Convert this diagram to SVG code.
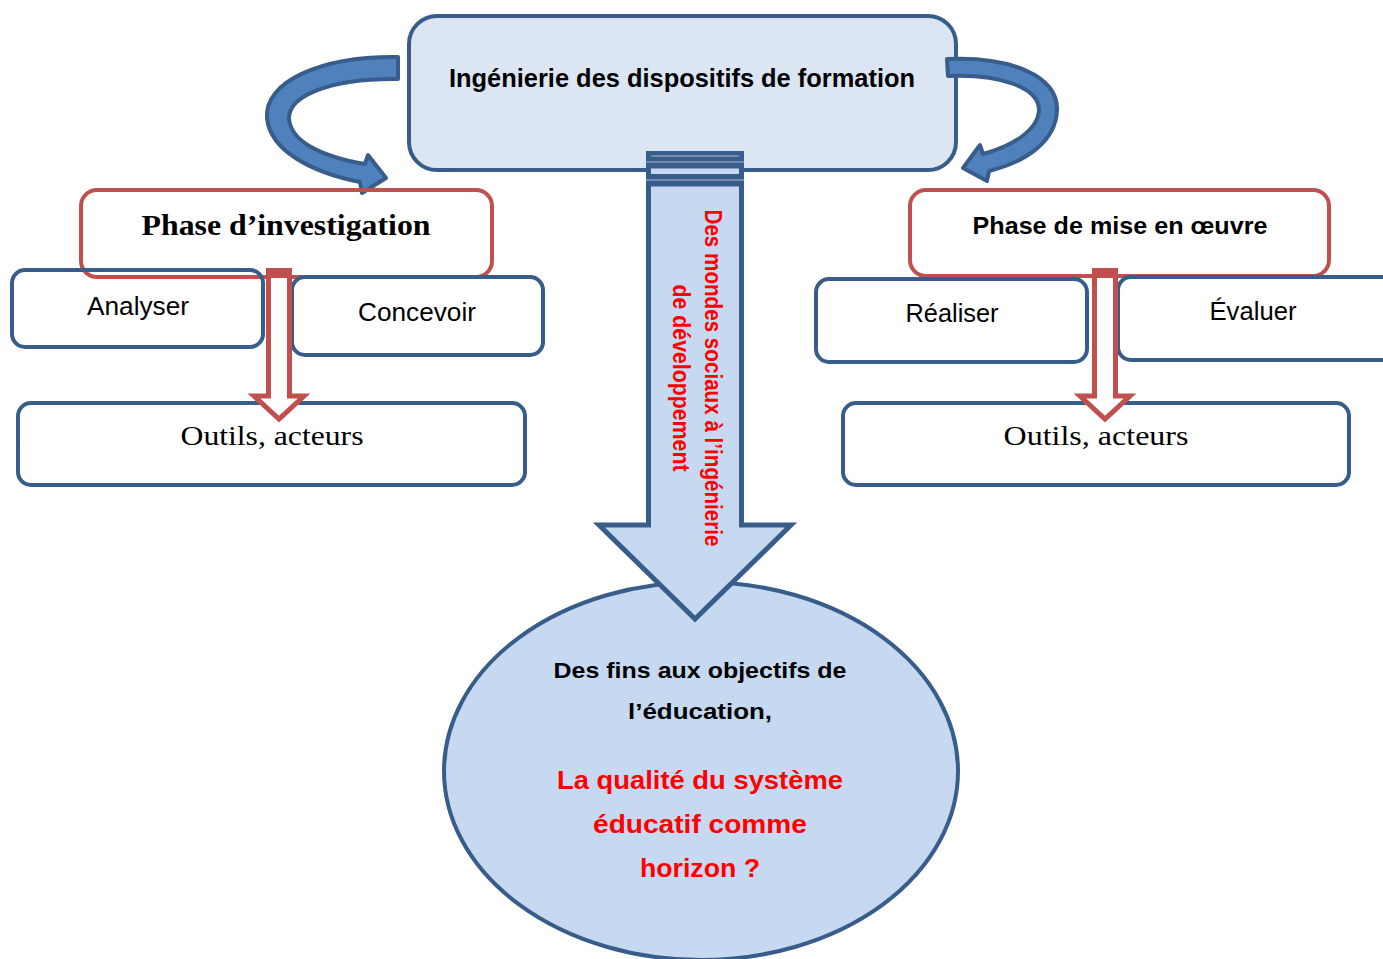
<svg xmlns="http://www.w3.org/2000/svg" width="1383" height="959" viewBox="0 0 1383 959">
<defs>
<style>
.bl{fill:none;stroke:#385d8a;stroke-width:4}
.rd{fill:none;stroke:#c0504d;stroke-width:4}
.sans{font-family:"Liberation Sans","Noto Sans",sans-serif}
.serif{font-family:"Liberation Serif","Times New Roman",serif}
.b{font-weight:bold}
.red{fill:#ff0000}
.blk{fill:#000}
.curv{fill:#4f81bd;stroke:#385d8a;stroke-width:4;stroke-linejoin:round}
.harr{fill:#fff;stroke:#c0504d;stroke-width:5;stroke-linejoin:miter}
</style>
</defs>
<rect width="1383" height="959" fill="#fff"/>

<g id="ellipse">
<ellipse cx="701" cy="771" rx="257" ry="189" fill="#c6d9f1" stroke="#385d8a" stroke-width="4"/>
<text class="sans b blk" font-size="22.5" text-anchor="middle" x="700" y="678" textLength="293" lengthAdjust="spacingAndGlyphs">Des fins aux objectifs de</text>
<text class="sans b blk" font-size="22.5" text-anchor="middle" x="700" y="719" textLength="144" lengthAdjust="spacingAndGlyphs">l’éducation,</text>
<text class="sans b red" font-size="25" text-anchor="middle" x="700" y="789" textLength="286" lengthAdjust="spacingAndGlyphs">La qualité du système</text>
<text class="sans b red" font-size="25" text-anchor="middle" x="700" y="833" textLength="214" lengthAdjust="spacingAndGlyphs">éducatif comme</text>
<text class="sans b red" font-size="25" text-anchor="middle" x="700" y="877" textLength="120" lengthAdjust="spacingAndGlyphs">horizon ?</text>
</g>

<g id="top">
<rect x="409" y="16" width="547" height="154" rx="28" fill="#dce6f2" stroke="#385d8a" stroke-width="4"/>
<text class="sans b blk" font-size="25" text-anchor="middle" x="682" y="87" textLength="466" lengthAdjust="spacingAndGlyphs">Ingénierie des dispositifs de formation</text>
</g>

<g id="connectors">
<g id="central-arrow">
<rect x="646" y="151" width="98" height="35" fill="#385d8a"/>
<line x1="651" y1="156" x2="739" y2="156" stroke="#a9bcd6" stroke-width="1"/>
<line x1="646" y1="162" x2="744" y2="162" stroke="#a9bcd6" stroke-width="1"/>
<rect x="651" y="168.5" width="88" height="5.5" fill="#c6d9f1"/>
<line x1="646" y1="180" x2="744" y2="180" stroke="#a9bcd6" stroke-width="1"/>
<polygon points="648.5,184 741.5,184 741.5,525 791,525 695,619 599,525 648.5,525" fill="#c6d9f1" stroke="#385d8a" stroke-width="5" stroke-linejoin="miter"/>
<g transform="translate(697,378) rotate(90)">
<text class="sans b red" font-size="24" text-anchor="middle" x="0" y="-8" textLength="337" lengthAdjust="spacingAndGlyphs">Des mondes sociaux à l’ingénierie</text>
<text class="sans b red" font-size="24" text-anchor="middle" x="0" y="24" textLength="187" lengthAdjust="spacingAndGlyphs">de développement</text>
</g>
</g>
<path class="curv" d="M398,57 C320,56 264,82 267,118 C270,150 310,172 360,182 L362,193 L386,178 L368,155 L365,164 C318,156 290,140 289,118 C289,96 330,78 398,79 Z"/>
<path class="curv" d="M947,59 C1010,56 1058,76 1057,110 C1056,142 1025,162 989,171 L987,181 L963,168 L980,145 L983,154 C1013,146 1038,130 1039,110 C1039,88 1002,74 948,76 Z"/>
</g>

<g id="phase-investigation">
<rect class="rd" x="81" y="190" width="411" height="87" rx="16"/>
<text class="serif b blk" font-size="30" text-anchor="middle" x="286" y="235" textLength="289" lengthAdjust="spacingAndGlyphs">Phase d’investigation</text>
</g>
<g id="analyser">
<rect class="bl" x="12" y="270" width="251" height="77" rx="13"/>
<text class="sans blk" font-size="25" text-anchor="middle" x="138" y="315" textLength="102" lengthAdjust="spacingAndGlyphs">Analyser</text>
</g>
<g id="concevoir">
<rect class="bl" x="292" y="277" width="251" height="78" rx="13"/>
<text class="sans blk" font-size="25" text-anchor="middle" x="417" y="321" textLength="118" lengthAdjust="spacingAndGlyphs">Concevoir</text>
</g>
<g id="outils-left">
<rect class="bl" x="18" y="403" width="507" height="82" rx="13"/>
<text class="serif blk" font-size="28" text-anchor="middle" x="272" y="445" textLength="183" lengthAdjust="spacingAndGlyphs">Outils, acteurs</text>
</g>
<g id="arrow-left">
<polygon class="harr" points="268.5,272 289.5,272 289.5,396 304,396 279,419 254,396 268.5,396"/>
<rect x="266" y="268" width="26" height="10" fill="#c0504d"/>
</g>

<g id="phase-mise">
<rect class="rd" x="910" y="190" width="419" height="86" rx="16"/>
<text class="sans b blk" font-size="24" text-anchor="middle" x="1120" y="234" textLength="295" lengthAdjust="spacingAndGlyphs">Phase de mise en œuvre</text>
</g>
<g id="realiser">
<rect class="bl" x="816" y="279" width="271" height="83" rx="13"/>
<text class="sans blk" font-size="25" text-anchor="middle" x="952" y="322" textLength="93" lengthAdjust="spacingAndGlyphs">Réaliser</text>
</g>
<g id="evaluer">
<rect class="bl" x="1118" y="277" width="280" height="83" rx="13"/>
<text class="sans blk" font-size="25" text-anchor="middle" x="1253" y="320" textLength="87" lengthAdjust="spacingAndGlyphs">Évaluer</text>
</g>
<g id="outils-right">
<rect class="bl" x="843" y="403" width="506" height="82" rx="13"/>
<text class="serif blk" font-size="28" text-anchor="middle" x="1096" y="445" textLength="185" lengthAdjust="spacingAndGlyphs">Outils, acteurs</text>
</g>
<g id="arrow-right">
<polygon class="harr" points="1094.5,272 1115.5,272 1115.5,396 1130,396 1105,419 1080,396 1094.5,396"/>
<rect x="1092" y="268" width="26" height="10" fill="#c0504d"/>
</g>
</svg>
